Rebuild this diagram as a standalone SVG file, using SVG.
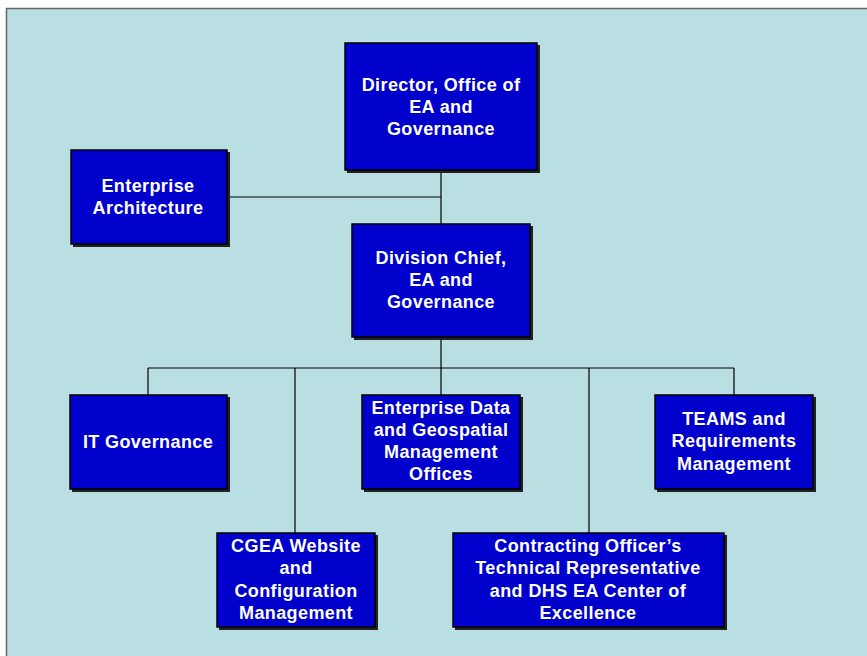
<svg xmlns="http://www.w3.org/2000/svg" width="867" height="656" viewBox="0 0 867 656">
<defs>
<style>
.bg{fill:#b9dfe2;stroke:#666;stroke-width:1.5}
.sh{fill:#222}
.box{fill:#0000cc;stroke:#000;stroke-width:1.5}
.t{font-family:"Liberation Sans",Arial,sans-serif;font-weight:bold;font-size:18px;letter-spacing:0.4px;fill:#fff;text-anchor:middle}
.c{stroke:#000;stroke-width:1.2;fill:none}
</style>
</defs>
<rect width="867" height="656" fill="#fff"/>
<rect class="bg" x="6.5" y="8.5" width="870" height="660"/>
<g id="connectors">
<path class="c" d="M441 170V224M227 197H441M441 337V368M148 368H734M148 368V395M295 368V533M441 368V395M589 368V533M734 368V395"/>
</g>
<g id="director">
<rect class="sh" x="347" y="45" width="193" height="128"/>
<rect class="box" x="345" y="43" width="192" height="127"/>
<text class="t" x="441" y="91">Director, Office of</text>
<text class="t" x="441" y="113">EA and</text>
<text class="t" x="441" y="135">Governance</text>
</g>
<g id="ea">
<rect class="sh" x="73" y="152" width="157" height="95"/>
<rect class="box" x="71" y="150" width="156" height="94"/>
<text class="t" x="148" y="192">Enterprise</text>
<text class="t" x="148" y="214">Architecture</text>
</g>
<g id="division">
<rect class="sh" x="354" y="226" width="179" height="114"/>
<rect class="box" x="352" y="224" width="178" height="113"/>
<text class="t" x="441" y="264">Division Chief,</text>
<text class="t" x="441" y="286">EA and</text>
<text class="t" x="441" y="308">Governance</text>
</g>
<g id="itgov">
<rect class="sh" x="72" y="397" width="158" height="95"/>
<rect class="box" x="70" y="395" width="157" height="94"/>
<text class="t" x="148" y="448">IT Governance</text>
</g>
<g id="data">
<rect class="sh" x="364" y="397" width="159" height="95"/>
<rect class="box" x="362" y="395" width="158" height="94"/>
<text class="t" x="441" y="414">Enterprise Data</text>
<text class="t" x="441" y="436">and Geospatial</text>
<text class="t" x="441" y="458">Management</text>
<text class="t" x="441" y="480">Offices</text>
</g>
<g id="teams">
<rect class="sh" x="657" y="397" width="159" height="95"/>
<rect class="box" x="655" y="395" width="158" height="94"/>
<text class="t" x="734" y="425">TEAMS and</text>
<text class="t" x="734" y="447">Requirements</text>
<text class="t" x="734" y="470">Management</text>
</g>
<g id="cgea">
<rect class="sh" x="219" y="535" width="159" height="95"/>
<rect class="box" x="217" y="533" width="158" height="94"/>
<text class="t" x="296" y="552">CGEA Website</text>
<text class="t" x="296" y="574">and</text>
<text class="t" x="296" y="597">Configuration</text>
<text class="t" x="296" y="619">Management</text>
</g>
<g id="cotr">
<rect class="sh" x="455" y="535" width="272" height="95"/>
<rect class="box" x="453" y="533" width="271" height="94"/>
<text class="t" x="588" y="552">Contracting Officer’s</text>
<text class="t" x="588" y="574">Technical Representative</text>
<text class="t" x="588" y="597">and DHS EA Center of</text>
<text class="t" x="588" y="619">Excellence</text>
</g>
</svg>
